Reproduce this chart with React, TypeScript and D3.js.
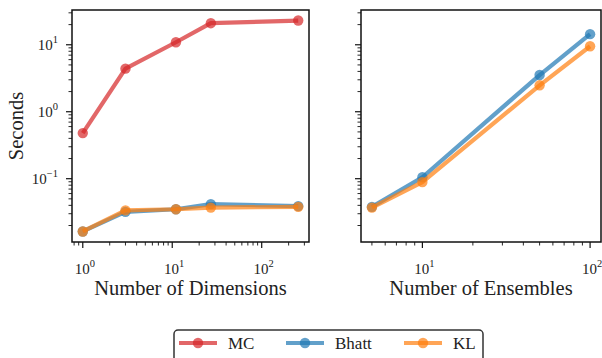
import React from "react";
import * as d3 from "d3";

const dims = [1, 3, 11, 27, 256];
const ensembles = [5, 10, 50, 100];

const mcDims = [0.48, 4.4, 10.9, 21, 23];
const bhattDims = [0.0163, 0.032, 0.035, 0.0417, 0.039];
const klDims = [0.0163, 0.0336, 0.035, 0.037, 0.038];

const bhattEns = [0.038, 0.105, 3.53, 14.4];
const klEns = [0.037, 0.089, 2.48, 9.5];

const seriesNames = ["MC", "Bhatt", "KL"];
const seriesColors = ["#d62728", "#1f77b4", "#ff7f0e"];

const yTickExps = [-1, 0, 1];
const FONT = "Liberation Serif, serif";

// log range of the values plus matplotlib's 5% margin
function logDomain(vals: number[], margin = 0.05): [number, number] {
  const lo = Math.log10(d3.min(vals) as number);
  const hi = Math.log10(d3.max(vals) as number);
  const pad = (hi - lo) * margin;
  return [Math.pow(10, lo - pad), Math.pow(10, hi + pad)];
}

function logTicks(domain: [number, number]) {
  const out: { v: number; major: boolean }[] = [];
  const e0 = Math.floor(Math.log10(domain[0]));
  const e1 = Math.ceil(Math.log10(domain[1]));
  for (let e = e0; e <= e1; e++) {
    for (let k = 1; k < 10; k++) {
      const v = k * Math.pow(10, e);
      if (v >= domain[0] * 0.9999 && v <= domain[1] * 1.0001) out.push({ v, major: k === 1 });
    }
  }
  return out;
}

const Sup = ({ x, y, exp, anchor }: { x: number; y: number; exp: number; anchor: string }) => (
  <text x={x} y={y} textAnchor={anchor} fontFamily={FONT} fontSize={15} fill="#222">
    10
    <tspan dy={-7} fontSize={10.5}>
      {exp < 0 ? "\u2212" + Math.abs(exp) : exp}
    </tspan>
  </text>
);

const yDomain = logDomain([...mcDims, ...bhattDims, ...klDims, ...bhattEns, ...klEns]);

function Panel({
  left, right, xs, series, xLabel, showY,
}: {
  left: number; right: number; xs: number[]; series: { vals: number[]; color: string }[]; xLabel: string; showY: boolean;
}) {
  const top = 10, bottom = 242;
  const xDomain = logDomain(xs);
  const x = d3.scaleLog().domain(xDomain).range([left, right]);
  const y = d3.scaleLog().domain(yDomain).range([bottom, top]);
  const line = d3.line<number>().x((_, i) => x(xs[i])).y((d) => y(d));
  const xt = logTicks(xDomain);
  const yt = logTicks(yDomain);
  return (
    <g>
      {series.map((s, si) => (
        <g key={si}>
          <path d={line(s.vals) || ""} fill="none" stroke={s.color} strokeWidth={4.2} strokeOpacity={0.7} strokeLinejoin="round" />
          {s.vals.map((v, i) => (
            <circle key={i} cx={x(xs[i])} cy={y(v)} r={5.2} fill={s.color} fillOpacity={0.7} />
          ))}
        </g>
      ))}
      <rect x={left} y={top} width={right - left} height={bottom - top} fill="none" stroke="#111" strokeWidth={1.5} />
      {xt.map((t, i) => (
        <line key={i} x1={x(t.v)} x2={x(t.v)} y1={bottom} y2={bottom + (t.major ? 6 : 3.5)} stroke="#111" strokeWidth={t.major ? 1.2 : 0.9} />
      ))}
      {xt.filter((t) => t.major).map((t, i) => (
        <Sup key={i} x={x(t.v) + 2} y={274} exp={Math.round(Math.log10(t.v))} anchor="middle" />
      ))}
      {yt.map((t, i) => (
        <line key={i} x1={left} x2={left - (t.major ? 6 : 3.5)} y1={y(t.v)} y2={y(t.v)} stroke="#111" strokeWidth={t.major ? 1.2 : 0.9} />
      ))}
      {showY &&
        yTickExps.map((e) => <Sup key={e} x={58} y={y(Math.pow(10, e)) + 5} exp={e} anchor="end" />)}
      <text x={(left + right) / 2} y={295} textAnchor="middle" fontFamily={FONT} fontSize={20.5} fill="#222">
        {xLabel}
      </text>
    </g>
  );
}

export default function App() {
  const legendX = [179, 286, 404];
  return (
    <svg width={602} height={358} style={{ position: "absolute", left: 0, top: 0, background: "#fff" }}>
      <Panel
        left={72}
        right={309}
        xs={dims}
        xLabel="Number of Dimensions"
        showY
        series={[
          { vals: mcDims, color: seriesColors[0] },
          { vals: bhattDims, color: seriesColors[1] },
          { vals: klDims, color: seriesColors[2] },
        ]}
      />
      <Panel
        left={361}
        right={601}
        xs={ensembles}
        xLabel="Number of Ensembles"
        showY={false}
        series={[
          { vals: bhattEns, color: seriesColors[1] },
          { vals: klEns, color: seriesColors[2] },
        ]}
      />
      <text transform="translate(23,126) rotate(-90)" textAnchor="middle" fontFamily={FONT} fontSize={20.5} fill="#222">
        Seconds
      </text>
      <rect x={174} y={330} width={309} height={36} rx={4} fill="#fff" stroke="#333" strokeWidth={1.5} />
      {seriesNames.map((n, i) => (
        <g key={n}>
          <line x1={legendX[i]} x2={legendX[i] + 38} y1={343} y2={343} stroke={seriesColors[i]} strokeWidth={4.2} strokeOpacity={0.7} />
          <circle cx={legendX[i] + 19} cy={343} r={5.2} fill={seriesColors[i]} fillOpacity={0.7} />
          <text x={legendX[i] + 49} y={349} fontFamily={FONT} fontSize={17} fill="#222">
            {n}
          </text>
        </g>
      ))}
    </svg>
  );
}
